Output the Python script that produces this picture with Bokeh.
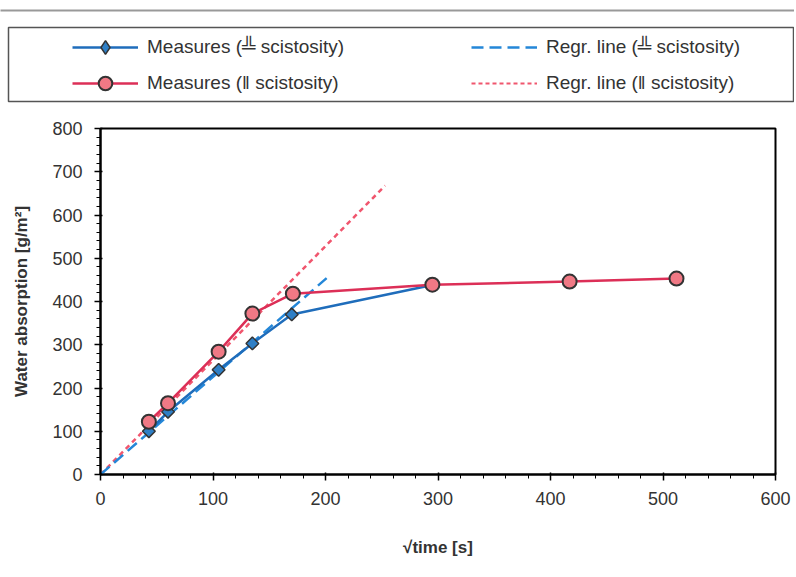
import numpy as np
from bokeh.plotting import figure
from bokeh.models import Legend, LegendItem, Range1d, SingleIntervalTicker
from bokeh.layouts import column, row
from bokeh.embed import file_html
from bokeh.resources import INLINE

# ---- data ----
perp_x = [43, 60, 105, 135, 170, 295]
perp_y = [100, 145, 242, 303, 370, 438]
par_x = [43, 60, 105, 135, 171, 295, 417, 512]
par_y = [122, 165, 284, 372, 418, 439, 446, 453]
regr_perp_x = [0, 201]
regr_perp_y = [0, 454]
regr_par_x = [0, 253]
regr_par_y = [0, 668]

labels = ["Measures (\u2569 scistosity)", "Measures (\u2016 scistosity)",
          "Regr. line (\u2569 scistosity)", "Regr. line (\u2016 scistosity)"]

FONT = "Liberation Sans"
TXT = "#333333"
BLUE = "#1f6dbb"
BLUE_FILL = "#2e7fc6"
BLUE_DASH = "#2487d8"
RED = "#dc2f57"
RED_FILL = "#f07985"
RED_DOT = "#f0566e"
EDGE = "#333333"

W = 794


def draw_series(fig, in_legend=False):
    r4 = fig.line(regr_par_x, regr_par_y, line_color=RED_DOT,
                  line_width=2 if in_legend else 2.5, line_dash="4 3" if in_legend else "5 4")
    r3 = fig.line(regr_perp_x, regr_perp_y, line_color=BLUE_DASH, line_width=2.5, line_dash="12 6")
    r1l = fig.line(perp_x, perp_y, line_color=BLUE, line_width=2.5)
    if in_legend:
        r1m = fig.scatter(perp_x, perp_y, marker="diamond", size=15,
                          fill_color=BLUE_FILL, line_color=EDGE, line_width=1.5)
    else:
        r1m = fig.scatter(perp_x, perp_y, marker="square", angle=np.pi / 4, size=9,
                          fill_color=BLUE_FILL, line_color=EDGE, line_width=1.5)
    r2l = fig.line(par_x, par_y, line_color=RED, line_width=2.5)
    r2m = fig.scatter(par_x, par_y, marker="circle", size=14,
                      fill_color=RED_FILL, line_color=EDGE, line_width=2)
    return r1l, r1m, r2l, r2m, r3, r4


# ---- thin rule at the top ----
rule = figure(width=W, height=12, x_range=Range1d(0, 1), y_range=Range1d(0, 1),
              x_axis_type=None, y_axis_type=None, output_backend="svg",
              toolbar_location=None, min_border_top=9, min_border_bottom=1,
              min_border_left=0, min_border_right=0)
rule.grid.visible = False
rule.outline_line_alpha = 0
rule.background_fill_color = "#999999"

# ---- legend panel (its frame is the legend box) ----
lg = figure(width=W, height=93, x_range=Range1d(10000, 10001), y_range=Range1d(10000, 10001),
            x_axis_type=None, y_axis_type=None, output_backend="svg",
            toolbar_location=None, min_border_top=15, min_border_bottom=4,
            min_border_left=8, min_border_right=0)
lg.grid.visible = False
lg.outline_line_color = "#555555"
lg.outline_line_width = 1.5
l1l, l1m, l2l, l2m, l3, l4 = draw_series(lg, in_legend=True)
legend = Legend(items=[
    LegendItem(label=labels[0], renderers=[l1l, l1m]),
    LegendItem(label=labels[1], renderers=[l2l, l2m]),
    LegendItem(label=labels[2], renderers=[l3]),
    LegendItem(label=labels[3], renderers=[l4]),
], location=(64, 1), orientation="vertical", ncols=2,
    glyph_width=66, glyph_height=34, label_standoff=9, label_width=322,
    label_height=20, spacing=2, padding=0, margin=0,
    label_text_font=FONT, label_text_font_size="19px", label_text_color=TXT,
    border_line_color=None, background_fill_alpha=0)
lg.add_layout(legend)

# ---- main chart ----
H = 470
p = figure(width=W, height=H, x_range=Range1d(0, 600), y_range=Range1d(0, 800),
           output_backend="svg", toolbar_location=None,
           min_border_top=23, min_border_bottom=101, min_border_left=100,
           min_border_right=W - 775)
p.grid.visible = False
p.outline_line_color = "black"
p.outline_line_width = 2


def style_axis(ax):
    ax.axis_line_color = "black"
    ax.axis_line_width = 2
    ax.major_tick_line_color = "black"
    ax.minor_tick_line_color = "black"
    ax.major_tick_line_width = 1.5
    ax.minor_tick_line_width = 1
    ax.major_tick_out = 6
    ax.major_tick_in = 2
    ax.minor_tick_out = 4
    ax.minor_tick_in = 0
    ax.major_label_text_font = FONT
    ax.major_label_text_font_size = "18px"
    ax.major_label_text_color = TXT
    ax.axis_label_text_font = FONT
    ax.axis_label_text_font_size = "17px"
    ax.axis_label_text_font_style = "bold"
    ax.axis_label_text_color = TXT


p.xaxis.ticker = SingleIntervalTicker(interval=100, num_minor_ticks=5)
p.yaxis.ticker = SingleIntervalTicker(interval=100, num_minor_ticks=5)
style_axis(p.xaxis[0])
style_axis(p.yaxis[0])
p.xaxis.axis_label = "\u221atime [s]"
p.yaxis.axis_label = "Water absorption [g/m\u00b2]"
p.xaxis.major_label_standoff = 11
p.xaxis.axis_label_standoff = 30
p.yaxis.major_label_standoff = 12
p.yaxis.axis_label_standoff = 18
draw_series(p)

layout = column(row(rule), row(lg), p, spacing=0)
open("out.html", "w").write(file_html(layout, INLINE))
